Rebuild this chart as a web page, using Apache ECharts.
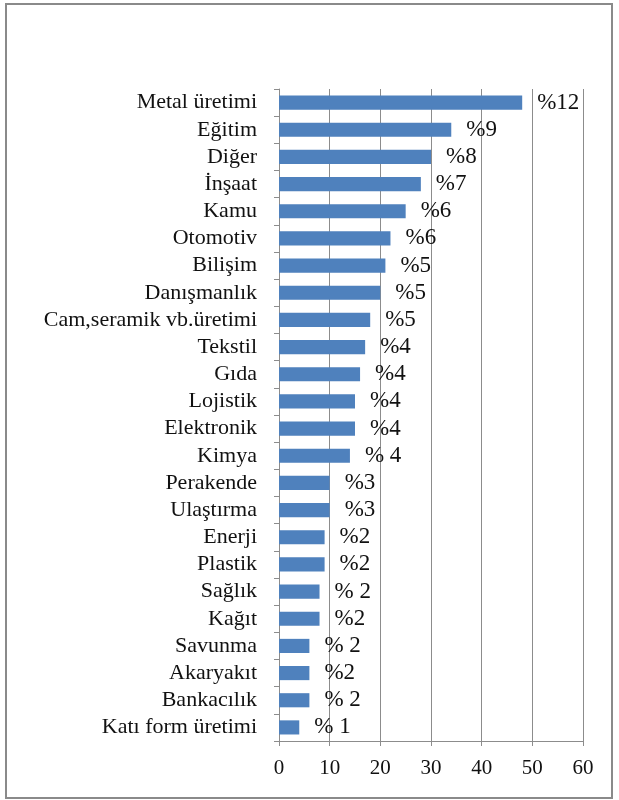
<html style="height: 100%">
<meta http-equiv=Content-Type content="text/html;charset=utf-8" />
<script type="text/javascript" src="https://cdn.jsdelivr.net/npm/echarts@6/dist/echarts.min.js"></script>
<body style="height: 100%; margin: 0; background: #fff">
	<div id="frame" style="position: absolute; left: 5px; top: 3px; width: 604px; height: 792px; border: 2px solid #8a8a8a"></div>
	<div id="echart" style="position: absolute; left: 0; top: 0; width: 619px; height: 800px"></div>
<script type="text/javascript">

	// sektörler (yukarıdan aşağıya)
	var categories = ["Metal üretimi", "Eğitim", "Diğer", "İnşaat", "Kamu", "Otomotiv", "Bilişim",
		"Danışmanlık", "Cam,seramik vb.üretimi", "Tekstil", "Gıda", "Lojistik", "Elektronik", "Kimya",
		"Perakende", "Ulaştırma", "Enerji", "Plastik", "Sağlık", "Kağıt", "Savunma", "Akaryakıt",
		"Bankacılık", "Katı form üretimi"];
	// çubuk değerleri
	var values = [48, 34, 30, 28, 25, 22, 21, 20, 18, 17, 16, 15, 15, 14, 10, 10, 9, 9, 8, 8, 6, 6, 6, 4];
	// çubuk etiketleri
	var labels = ["%12", "%9", "%8", "%7", "%6", "%6", "%5", "%5", "%5", "%4", "%4", "%4", "%4", "% 4",
		"%3", "%3", "%2", "%2", "% 2", "%2", "% 2", "%2", "% 2", "% 1"];
	// x ekseni
	var xTicks = [0, 10, 20, 30, 40, 50, 60];

	var font = "'Liberation Serif', 'Times New Roman', serif";

	var myChart = echarts.init(document.getElementById('echart'));
	myChart.setOption({
		animation: false,
		grid: { left: 279, right: 36, top: 89, bottom: 59 },
		xAxis: {
			type: 'value',
			min: xTicks[0],
			max: xTicks[xTicks.length - 1],
			interval: xTicks[1] - xTicks[0],
			axisLine: { show: true, lineStyle: { color: '#8c8c8c', width: 1 } },
			axisTick: { show: true, length: 5, lineStyle: { color: '#8c8c8c' } },
			axisLabel: { color: '#111', fontFamily: font, fontSize: 21, margin: 17 },
			splitLine: { show: true, lineStyle: { color: '#8c8c8c', width: 1 } }
		},
		yAxis: {
			type: 'category',
			inverse: true,
			data: categories,
			axisLine: { show: true, lineStyle: { color: '#8c8c8c', width: 1 } },
			axisTick: { show: true, length: 5, lineStyle: { color: '#8c8c8c' } },
			axisLabel: { color: '#111', fontFamily: font, fontSize: 22, margin: 22, interval: 0 }
		},
		series: [{
			type: 'bar',
			data: values,
			barCategoryGap: '48%',
			itemStyle: { color: '#4f81bd' },
			label: {
				show: true,
				position: 'right',
				distance: 15,
				color: '#111',
				fontFamily: font,
				fontSize: 23,
				formatter: function (p) { return labels[p.dataIndex]; }
			}
		}]
	});
</script>
</body>
</html>
